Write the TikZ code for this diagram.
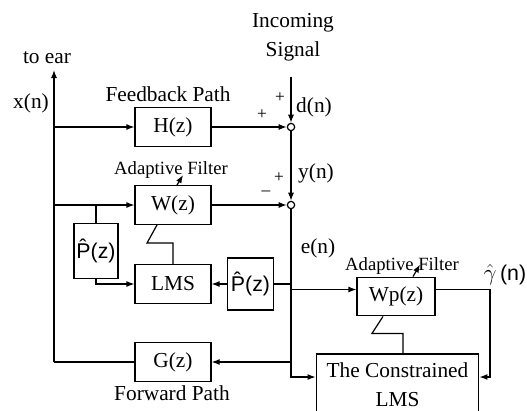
\documentclass[tikz,border=0pt]{standalone}
\usepackage{fontspec}
\setmainfont{Liberation Serif}
\newfontfamily\arialfont{Liberation Sans}
\usetikzlibrary{arrows.meta,calc}

\tikzset{every picture/.style={line width=0.9pt}}
\tikzset{
  blk/.style={draw, rectangle, inner sep=0pt, minimum width=57pt, minimum height=29pt, font=\fontsize{16}{18}\selectfont},
  sumpt/.style={draw, circle, fill=white, inner sep=0pt, minimum size=5.5pt},
  lbl/.style={font=\fontsize{16}{18}\selectfont, inner sep=0pt},
  sgn/.style={font=\fontsize{13}{15}\selectfont, inner sep=0pt},
  small/.style={font=\fontsize{14}{16}\selectfont, inner sep=0pt},
  tip/.style={-{Latex[length=6pt,width=4.5pt]}},
}

\begin{document}
\begin{tikzpicture}[x=0.75pt,y=0.75pt,yscale=-1,xscale=1]
\useasboundingbox (0,0) rectangle (527,410);
\clip (0,0) rectangle (527,410);

% blocks
\node[blk] (H) at (173,127) {H(z)};
\node[blk] (W) at (173,205) {W(z)};
\node[blk] (LMS) at (173,284) {LMS};
\node[blk] (G) at (173,362) {G(z)};
\node[blk, minimum width=33pt, minimum height=41pt] (Pl) at (96,251) {\arialfont\^{P}(z)};
\node[blk, minimum width=34pt, minimum height=39pt] (Pr) at (250.5,284) {\arialfont\^{P}(z)};
\node[blk, minimum width=58.5pt] (Wp) at (396,296.5) {Wp(z)};
\node[blk, minimum width=122pt, minimum height=46.5pt, align=center, font=\fontsize{16}{22}\selectfont] (CLMS) at (397.5,385) {The Constrained\\LMS};

% summing points and free ends
\node[sumpt] (s1) at (291,127) {};
\node[sumpt] (s2) at (291,205) {};
\coordinate (inc) at (291,77);
\coordinate (ear) at (54,70);
\coordinate (xb) at (54,362);
\coordinate (eb) at (291,377);
\coordinate (gr) at (490,377);

% wiring
\draw[tip] (xb) -- (ear);
\draw[tip] (xb |- H) -- (H);
\draw[tip] (H) -- (s1);
\draw[tip] (inc) -- (s1);
\draw[tip] (s1) -- (s2);
\draw[tip] (xb |- W) -- (W);
\draw[tip] (W) -- (s2);
\draw (Pl |- W) -- (Pl);
\draw[tip] (Pl) |- (LMS);
\draw[tip] (Pr) -- (LMS);
\draw (Pr) -- (Pr -| s2);
\draw[tip] (s2) -- (eb) -- (eb -| CLMS.west);
\draw[tip] (Wp.170 -| s2) -- (Wp.170);
\draw[tip] (Wp.10) -| (gr) -- (gr -| CLMS.east);
\draw[tip] (G -| s2) -- (G);
\draw (G) -- (xb);

% update links
\draw (LMS.north) -- ++(0,-21) -- ++(-26,0) -- ($(W.south)+(-16,0)$);
\draw ($(CLMS.north)+(5.5,0)$) -- ++(0,-20) -- ++(-31,0) -- ($(Wp.south)+(-13,0)$);
\draw[tip] ($(W.north)+(4,0)$) -- ++(6,-10);
\draw[tip] ($(Wp.north)+(17,0)$) -- ++(7,-12);

% labels
\node[lbl, align=center, font=\fontsize{16}{21.75}\selectfont] (inlbl) at (293,37) {Incoming\\Signal};
\node[lbl] (earlbl) at (47,58) {to ear};
\node[lbl] (xlbl) at (31,103) {x(n)};
\node[lbl] (hlbl) at (168,94) {Feedback Path};
\node[small] (wlbl) at (171,170) {Adaptive Filter};
\node[lbl] (dlbl) at (314,107) {d(n)};
\node[lbl] (ylbl) at (316,173) {y(n)};
\node[lbl] (elbl) at (318,248) {e(n)};
\node[small] (wplbl) at (402,266) {Adaptive Filter};
\node[lbl, anchor=south west] (gamlbl) at (483,286) {$\hat{\gamma}$\,{\arialfont(n)}};
\node[lbl] (glbl) at (172,393) {Forward Path};
\node[sgn] (p1) at (280,98) {+};
\node[sgn] (p2) at (262,115) {+};
\node[sgn] (p3) at (279,178) {+};
\node[sgn] (m1) at (266,193) {--};

\end{tikzpicture}
\end{document}
